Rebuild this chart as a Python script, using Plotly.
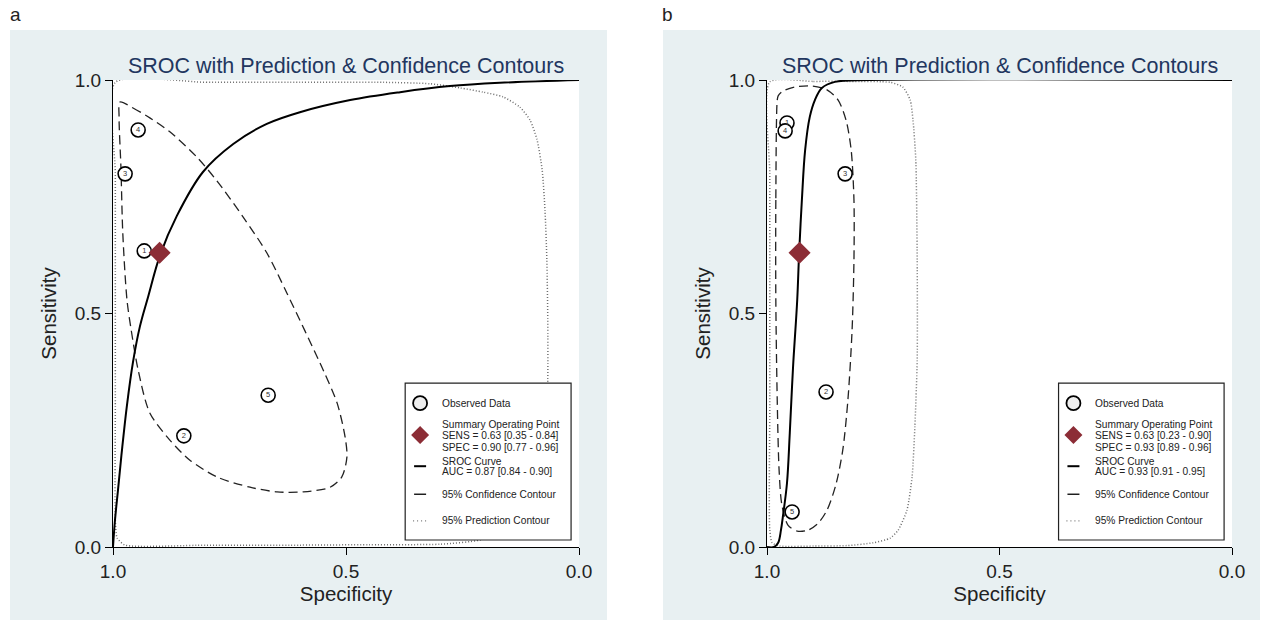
import plotly.graph_objects as go
from plotly.subplots import make_subplots

# ---------------- data ----------------
study_ids = ["1", "2", "3", "4", "5"]

# Panel a
a_obs_spec = [0.933, 0.848, 0.974, 0.946, 0.667]
a_obs_sens = [0.634, 0.238, 0.799, 0.893, 0.325]
a_sum_spec = [0.90]
a_sum_sens = [0.63]
a_sroc_spec = [1.0, 0.9957, 0.9893, 0.9807, 0.970, 0.9571, 0.9421, 0.9249, 0.899, 0.863,
               0.807, 0.742, 0.670, 0.599, 0.491, 0.384, 0.277, 0.170, 0.0]
a_sroc_sens = [0.0, 0.058, 0.122, 0.208, 0.304, 0.396, 0.473, 0.535, 0.625, 0.709,
               0.803, 0.863, 0.906, 0.931, 0.957, 0.974, 0.987, 0.994, 1.0]
a_conf_spec = [0.985, 0.957, 0.921, 0.878, 0.820, 0.777, 0.721, 0.670, 0.627, 0.549, 0.519,
               0.502, 0.498, 0.509, 0.534, 0.592, 0.648, 0.706, 0.777, 0.835, 0.878,
               0.921, 0.946, 0.961, 0.970, 0.979, 0.983, 0.987, 0.985]
a_conf_sens = [0.953, 0.940, 0.919, 0.889, 0.835, 0.784, 0.707, 0.630, 0.544, 0.379, 0.308,
               0.236, 0.193, 0.150, 0.128, 0.118, 0.118, 0.128, 0.150, 0.186, 0.229,
               0.287, 0.379, 0.465, 0.529, 0.672, 0.814, 0.921, 0.953]
a_pred_spec = [0.995, 0.800, 0.599, 0.420, 0.320, 0.255, 0.206, 0.163, 0.127, 0.105, 0.090, 0.079,
               0.073, 0.069, 0.067, 0.067, 0.071, 0.084, 0.127, 0.212, 0.298, 0.450, 0.599, 0.800,
               0.974, 0.991, 0.995, 0.995, 0.995, 0.995, 0.995]
a_pred_sens = [0.995, 0.995, 0.995, 0.995, 0.992, 0.983, 0.974, 0.964, 0.942, 0.914, 0.872, 0.807,
               0.722, 0.615, 0.486, 0.358, 0.229, 0.122, 0.047, 0.015, 0.006, 0.005, 0.004, 0.004,
               0.004, 0.019, 0.058, 0.300, 0.529, 0.800, 0.995]

# Panel b
b_obs_spec = [0.957, 0.873, 0.832, 0.961, 0.946]
b_obs_sens = [0.908, 0.332, 0.799, 0.891, 0.075]
b_sum_spec = [0.93]
b_sum_sens = [0.63]
b_sroc_spec = [1.0, 0.985, 0.976, 0.970, 0.966, 0.957, 0.951, 0.944, 0.935, 0.931,
               0.925, 0.918, 0.908, 0.897, 0.882, 0.854, 0.778, 0.0]
b_sroc_sens = [0.0, 0.0, 0.009, 0.036, 0.064, 0.137, 0.244, 0.385, 0.529, 0.627,
               0.743, 0.850, 0.921, 0.957, 0.983, 0.996, 1.0, 1.0]
b_conf_spec = [0.978, 0.981, 0.981, 0.978, 0.974, 0.968, 0.955, 0.935, 0.912, 0.890,
               0.871, 0.852, 0.837, 0.826, 0.817, 0.813, 0.813, 0.819, 0.830, 0.847,
               0.871, 0.903, 0.940, 0.966, 0.976, 0.978]
b_conf_sens = [0.957, 0.743, 0.529, 0.315, 0.165, 0.090, 0.047, 0.034, 0.036, 0.051,
               0.079, 0.133, 0.208, 0.315, 0.465, 0.615, 0.743, 0.850, 0.914, 0.957,
               0.979, 0.987, 0.985, 0.976, 0.966, 0.957]
b_pred_spec = [0.994, 0.900, 0.822, 0.735, 0.708, 0.692, 0.686, 0.680, 0.677, 0.677, 0.682,
               0.688, 0.699, 0.718, 0.735, 0.772, 0.828, 0.900, 0.972, 0.989, 0.994, 0.994,
               0.994, 0.994, 0.994]
b_pred_sens = [0.996, 0.997, 0.997, 0.995, 0.985, 0.957, 0.914, 0.829, 0.615, 0.400, 0.257,
               0.150, 0.079, 0.036, 0.019, 0.009, 0.003, 0.002, 0.002, 0.009, 0.036, 0.300,
               0.529, 0.800, 0.996]

tick_vals = [0.0, 0.5, 1.0]
tick_text = ["0.0", "0.5", "1.0"]

title_text = "SROC with Prediction & Confidence Contours"
panel_labels = ["a", "b"]
legend_a = ["Observed Data",
            "Summary Operating Point", "SENS = 0.63 [0.35 - 0.84]", "SPEC = 0.90 [0.77 - 0.96]",
            "SROC Curve", "AUC = 0.87 [0.84 - 0.90]",
            "95% Confidence Contour", "95% Prediction Contour"]
legend_b = ["Observed Data",
            "Summary Operating Point", "SENS = 0.63 [0.23 - 0.90]", "SPEC = 0.93 [0.89 - 0.96]",
            "SROC Curve", "AUC = 0.93 [0.91 - 0.95]",
            "95% Confidence Contour", "95% Prediction Contour"]

# ---------------- styling ----------------
FONT = "Arial, Liberation Sans, sans-serif"
BG = "#e8f0f2"
TITLE_COLOR = "#22365f"
MAROON = "#8c2d36"
W, H = 1263, 622

fig = make_subplots(rows=1, cols=2)

panels = [
    dict(obs_spec=a_obs_spec, obs_sens=a_obs_sens, sum_spec=a_sum_spec, sum_sens=a_sum_sens,
         sroc_spec=a_sroc_spec, sroc_sens=a_sroc_sens, conf_spec=a_conf_spec, conf_sens=a_conf_sens,
         pred_spec=a_pred_spec, pred_sens=a_pred_sens, legend=legend_a),
    dict(obs_spec=b_obs_spec, obs_sens=b_obs_sens, sum_spec=b_sum_spec, sum_sens=b_sum_sens,
         sroc_spec=b_sroc_spec, sroc_sens=b_sroc_sens, conf_spec=b_conf_spec, conf_sens=b_conf_sens,
         pred_spec=b_pred_spec, pred_sens=b_pred_sens, legend=legend_b),
]

# pixel geometry of the two plot areas
xpx = [(113, 579), (767, 1232)]
ypx = (80, 547)
bgpx = [(10, 607), (663, 1260)]
labelpx = [15, 668]

for i, p in enumerate(panels):
    col = i + 1
    fig.add_trace(go.Scatter(x=p["pred_spec"], y=p["pred_sens"], mode="lines",
                             line=dict(color="#6e6e6e", width=1.5, dash="1px,2px", shape="spline", smoothing=0.6),
                             cliponaxis=False, showlegend=False, hoverinfo="skip"), row=1, col=col)
    fig.add_trace(go.Scatter(x=p["conf_spec"], y=p["conf_sens"], mode="lines",
                             line=dict(color="#222222", width=1.3, dash="9px,5px", shape="spline", smoothing=0.8),
                             showlegend=False, hoverinfo="skip"), row=1, col=col)
    fig.add_trace(go.Scatter(x=p["sroc_spec"], y=p["sroc_sens"], mode="lines",
                             line=dict(color="black", width=2, shape="spline", smoothing=1.0),
                             cliponaxis=False, showlegend=False, hoverinfo="skip"), row=1, col=col)
    fig.add_trace(go.Scatter(x=p["obs_spec"], y=p["obs_sens"], mode="markers+text",
                             text=study_ids, textposition="middle center",
                             textfont=dict(size=7.5, color="#333333", family=FONT),
                             marker=dict(symbol="circle", size=14, color="white",
                                         line=dict(color="black", width=1.6)),
                             showlegend=False, hoverinfo="skip"), row=1, col=col)
    fig.add_trace(go.Scatter(x=p["sum_spec"], y=p["sum_sens"], mode="markers",
                             marker=dict(symbol="diamond", size=17, color=MAROON,
                                         line=dict(width=0)),
                             showlegend=False, hoverinfo="skip"), row=1, col=col)

axis_common = dict(range=[0, 1], tickvals=tick_vals, ticktext=tick_text, showgrid=False,
                   zeroline=False, showline=True, linecolor="black", linewidth=1,
                   ticks="outside", ticklen=7, tickwidth=1, tickcolor="black", automargin=False,
                   tickfont=dict(size=19, color="#222222", family=FONT))

for i in range(2):
    xa = "xaxis" if i == 0 else "xaxis2"
    ya = "yaxis" if i == 0 else "yaxis2"
    x0, x1 = xpx[i]
    fig.layout[xa].update(axis_common)
    fig.layout[xa].update(range=[1, 0], domain=[x0 / W, x1 / W],
                          title=dict(text="Specificity", standoff=0,
                                     font=dict(size=20.5, color="#222222", family=FONT)))
    fig.layout[ya].update(axis_common)
    fig.layout[ya].update(domain=[1 - ypx[1] / H, 1 - ypx[0] / H],
                          title=dict(text="Sensitivity", standoff=12,
                                     font=dict(size=20.5, color="#222222", family=FONT)))

shapes = []
annotations = []
for i in range(2):
    b0, b1 = bgpx[i]
    x0, x1 = xpx[i]
    shapes.append(dict(type="rect", xref="paper", yref="paper", layer="below",
                       x0=b0 / W, x1=b1 / W, y0=1 - 620 / H, y1=1 - 30 / H,
                       fillcolor=BG, line=dict(width=0)))
    shapes.append(dict(type="rect", xref="paper", yref="paper", layer="below",
                       x0=x0 / W, x1=x1 / W, y0=1 - ypx[1] / H, y1=1 - ypx[0] / H,
                       fillcolor="white", line=dict(width=0)))
    annotations.append(dict(text=panel_labels[i], xref="paper", yref="paper",
                            x=labelpx[i] / W, y=1 - 15 / H, xanchor="center", yanchor="middle",
                            showarrow=False, font=dict(size=19, color="#222222", family=FONT)))
    annotations.append(dict(text=title_text, xref="paper", yref="paper",
                            x=(x0 + x1) / 2 / W, y=1 - 66 / H, xanchor="center", yanchor="middle",
                            showarrow=False, font=dict(size=21.5, color=TITLE_COLOR, family=FONT)))

    # custom legend box (domain coordinates of each subplot)
    xr = "x domain" if i == 0 else "x2 domain"
    yr = "y domain" if i == 0 else "y2 domain"
    pw, ph = (x1 - x0), (ypx[1] - ypx[0])
    shapes.append(dict(type="rect", xref=xr, yref=yr, layer="above",
                       x0=0.627, x1=0.983, y0=0.015, y1=0.351,
                       fillcolor="white", line=dict(color="#222222", width=1.2)))
    sx = 0.659
    shapes.append(dict(type="circle", xref=xr, yref=yr, layer="above",
                       x0=sx - 7 / pw, x1=sx + 7 / pw, y0=0.308 - 7 / ph, y1=0.308 + 7 / ph,
                       fillcolor="#eeeeee", line=dict(color="black", width=1.8)))
    dy = 0.240
    d = 9
    shapes.append(dict(type="path", xref=xr, yref=yr, layer="above",
                       path=f"M {sx} {dy + d / ph} L {sx + d / pw} {dy} L {sx} {dy - d / ph} L {sx - d / pw} {dy} Z",
                       fillcolor=MAROON, line=dict(width=0)))
    shapes.append(dict(type="line", xref=xr, yref=yr, layer="above",
                       x0=sx - 6 / pw, x1=sx + 6 / pw, y0=0.173, y1=0.173,
                       line=dict(color="black", width=2)))
    shapes.append(dict(type="line", xref=xr, yref=yr, layer="above",
                       x0=sx - 6 / pw, x1=sx + 6 / pw, y0=0.113, y1=0.113,
                       line=dict(color="black", width=1.3)))
    shapes.append(dict(type="line", xref=xr, yref=yr, layer="above",
                       x0=sx - 7 / pw, x1=sx + 7 / pw, y0=0.056, y1=0.056,
                       line=dict(color="#777777", width=1.4, dash="1px,3px")))
    tx = 0.702
    leg = panels[i]["legend"]
    ys = [0.308, 0.263, 0.238, 0.214, 0.184, 0.161, 0.113, 0.056]
    for t, yy in zip(leg, ys):
        annotations.append(dict(text=t, xref=xr, yref=yr, x=tx, y=yy,
                                xanchor="left", yanchor="middle", showarrow=False,
                                font=dict(size=10.2, color="#222222", family=FONT)))

fig.update_layout(width=W, height=H, margin=dict(l=0, r=0, t=0, b=0),
                  paper_bgcolor="white", plot_bgcolor="white",
                  shapes=shapes, annotations=annotations, showlegend=False,
                  font=dict(family=FONT))

fig.write_html("out.html", config={"displayModeBar": False},
               post_script="document.body.style.margin='0';document.body.style.overflow='hidden';")
